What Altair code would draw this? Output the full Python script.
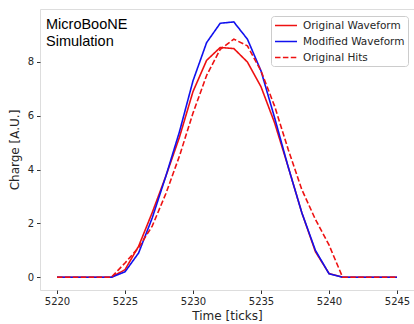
import altair as alt
import pandas as pd

ticks = list(range(5220, 5246))
original_waveform = [0, 0, 0, 0, 0, 0.28, 1.15, 2.4, 3.75, 5.2, 6.9, 8.06, 8.54, 8.5, 8.0, 7.08,
                     5.74, 4.1, 2.4, 0.95, 0.14, 0, 0, 0, 0, 0]
modified_waveform = [0, 0, 0, 0, 0, 0.2, 0.9, 2.2, 3.75, 5.4, 7.3, 8.72, 9.44, 9.49, 8.85, 7.67,
                     5.93, 4.1, 2.4, 1.0, 0.13, 0, 0, 0, 0, 0]
original_hits = [0, 0, 0, 0, 0, 0.53, 1.1, 1.9, 3.1, 4.5, 6.1, 7.5, 8.47, 8.85, 8.6, 7.67,
                 6.36, 4.75, 3.26, 2.15, 1.2, 0, 0, 0, 0, 0]

series_names = ["Original Waveform", "Modified Waveform", "Original Hits"]
series_colors = ["#ee1111", "#1111ee", "#ee1111"]
series_dash = [[1, 0], [1, 0], [5.5, 2.4]]

rows = []
for name, vals in zip(series_names, [original_waveform, modified_waveform, original_hits]):
    for t, v in zip(ticks, vals):
        rows.append({"series": name, "time": t, "charge": v, "order": series_names.index(name)})
df = pd.DataFrame(rows)

font = "DejaVu Sans"
txt = "#262626"

legend = alt.Legend(
    title=None, orient="none", legendX=231, legendY=7,
    symbolType="M-1,0H3", symbolSize=121, symbolStrokeWidth=1.6,
    labelFont=font, labelFontSize=10.5, labelColor=txt, labelOffset=16,
    rowPadding=4, padding=3, fillColor="white", strokeColor="#cccccc",
    cornerRadius=3,
)

x = alt.X("time:Q", title="Time [ticks]",
          scale=alt.Scale(domain=[5218.75, 5246.25], nice=False, zero=False),
          axis=alt.Axis(values=[5220, 5225, 5230, 5235, 5240, 5245], grid=False,
                        format="d", tickSize=3.5, labelPadding=3, titlePadding=4,
                        labelFont=font, labelFontSize=10, labelColor=txt,
                        titleFont=font, titleFontSize=12, titleFontWeight="normal", titleColor=txt,
                        domain=False, tickColor="#333333"))
y = alt.Y("charge:Q", title="Charge [A.U.]",
          scale=alt.Scale(domain=[-0.475, 9.97], nice=False, zero=False),
          axis=alt.Axis(values=[0, 2, 4, 6, 8], grid=False, tickSize=3.5, labelPadding=3,
                        titlePadding=6, labelFont=font, labelFontSize=10, labelColor=txt,
                        titleFont=font, titleFontSize=12, titleFontWeight="normal", titleColor=txt,
                        domain=False, tickColor="#333333"))

lines = alt.Chart(df).mark_line(strokeWidth=1.6).encode(
    x=x, y=y,
    color=alt.Color("series:N", scale=alt.Scale(domain=series_names, range=series_colors), legend=legend),
    strokeDash=alt.StrokeDash("series:N", scale=alt.Scale(domain=series_names, range=series_dash), legend=legend),
    order=alt.Order("order:Q"),
    detail="series:N",
)

label_df = pd.DataFrame({"label": ["MicroBooNE\nSimulation"]})
label = alt.Chart(label_df).mark_text(
    align="left", baseline="alphabetic", font="Liberation Sans", fontSize=14.5,
    color="black", lineBreak="\n", lineHeight=17.5,
).encode(x=alt.value(6), y=alt.value(19.5), text="label:N")

chart = alt.layer(lines, label).properties(
    width=374, height=281,
    autosize=alt.AutoSizeParams(type="none"),
    padding={"left": 40, "top": 9, "right": 0, "bottom": 34},
).configure_view(stroke="#333333", strokeWidth=1.2).configure(background="white")

chart.save("out.html", embed_options={"renderer": "svg", "actions": False})
